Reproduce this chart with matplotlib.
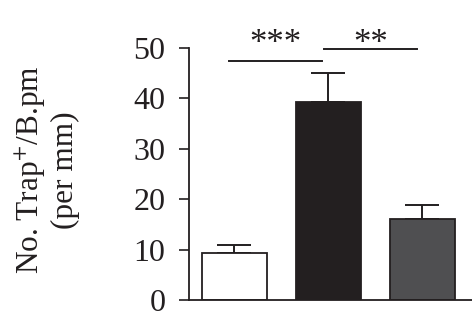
import matplotlib
matplotlib.use("Agg")
import matplotlib.pyplot as plt

# bar values
groups = ["A", "B", "C"]
means = [9.3, 39.3, 16.1]
errs = [1.6, 5.7, 2.7]
colors = ["white", "#231f20", "#4f4f51"]
ticks = [0, 10, 20, 30, 40, 50]

# significance brackets: (left, right, height, label)
sig = [(-0.06, 0.93, 47.4, "***"), (0.95, 1.94, 49.9, "**")]

plt.rcParams["font.family"] = "Liberation Serif"
plt.rcParams["mathtext.fontset"] = "stix"
ink = "#231f20"

fig = plt.figure(figsize=(4.72, 3.2), dpi=100)
ax = fig.add_axes([189 / 472, 20 / 320, 1 - 189 / 472, 252 / 320])

x = list(range(len(groups)))
ax.bar(x, means, width=0.69, color=colors, edgecolor=ink, linewidth=1.3, zorder=2)
ax.errorbar(x, means, yerr=[[0] * len(errs), errs], fmt="none", ecolor=ink,
            elinewidth=1.4, capsize=12, capthick=1.4, zorder=1)

for x0, x1, h, lab in sig:
    ax.plot([x0, x1], [h, h], color=ink, lw=1.4, clip_on=False)
    ax.text((x0 + x1) / 2, 50.6, lab, ha="center", va="center",
            fontsize=25, color=ink, clip_on=False)

ax.set_xlim(-0.484, 2.527)
ax.set_ylim(0, 50)
ax.set_yticks(ticks)
ax.set_xticks([])
ax.tick_params(axis="y", direction="out", length=7, width=1.2, pad=10,
               labelsize=23, colors=ink)
for s in ["top", "right"]:
    ax.spines[s].set_visible(False)
for s in ["left", "bottom"]:
    ax.spines[s].set_linewidth(1.3)
    ax.spines[s].set_color(ink)

fig.text(47 / 472, 1 - 170 / 320, "No. Trap$^{+}$/B.pm\n(per mm)", rotation=90,
         ha="center", va="center", multialignment="center", fontsize=22.5,
         color=ink, linespacing=1.15)

fig.savefig("out.png", dpi=100)
